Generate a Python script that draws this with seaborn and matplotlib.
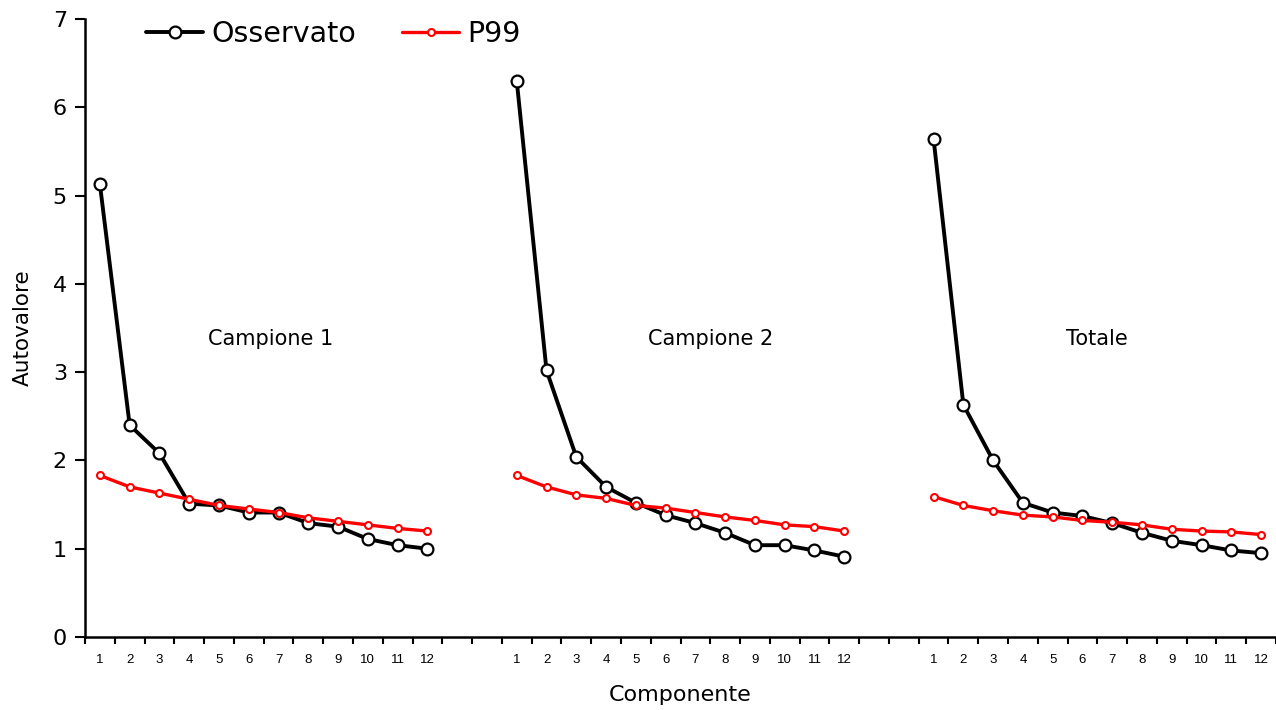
import numpy as np
import pandas as pd
import matplotlib
matplotlib.use("Agg")
import matplotlib.pyplot as plt
import seaborn as sns
from matplotlib.lines import Line2D

# ---- data ----
components = list(range(1, 13))
groups = ["Campione 1", "Campione 2", "Totale"]
obs_c1 = [5.13, 2.40, 2.08, 1.51, 1.49, 1.41, 1.41, 1.29, 1.25, 1.11, 1.04, 1.00]
p99_c1 = [1.83, 1.70, 1.63, 1.56, 1.49, 1.45, 1.41, 1.35, 1.31, 1.27, 1.23, 1.20]
obs_c2 = [6.30, 3.02, 2.04, 1.70, 1.52, 1.38, 1.29, 1.18, 1.04, 1.04, 0.98, 0.91]
p99_c2 = [1.83, 1.70, 1.61, 1.57, 1.49, 1.46, 1.41, 1.36, 1.32, 1.27, 1.25, 1.20]
obs_tot = [5.64, 2.63, 2.00, 1.52, 1.41, 1.37, 1.29, 1.18, 1.09, 1.04, 0.98, 0.95]
p99_tot = [1.59, 1.49, 1.43, 1.38, 1.36, 1.32, 1.30, 1.27, 1.22, 1.20, 1.19, 1.16]
series_names = ["Osservato", "P99"]
y_ticks = [0, 1, 2, 3, 4, 5, 6, 7]

obs = [obs_c1, obs_c2, obs_tot]
p99 = [p99_c1, p99_c2, p99_tot]

gap = 2  # empty categories between groups
rows = []
for gi, g in enumerate(groups):
    for ci, c in enumerate(components):
        pos = gi * (len(components) + gap) + c
        rows.append(dict(group=g, comp=c, pos=pos, value=obs[gi][ci], series="Osservato"))
        rows.append(dict(group=g, comp=c, pos=pos, value=p99[gi][ci], series="P99"))
df = pd.DataFrame(rows)
n_cat = len(groups) * len(components) + gap * (len(groups) - 1)

sns.set_theme(style="white")
plt.rcParams['font.family'] = ['DejaVu Sans']
plt.rcParams['text.color'] = 'black'
plt.rcParams['axes.labelcolor'] = 'black'
plt.rcParams['xtick.color'] = 'black'
plt.rcParams['ytick.color'] = 'black'

fig = plt.figure(figsize=(12.76, 7.10), dpi=100)
ax = fig.add_axes([85/1276, 73/710, (1276-85)/1276, 618/710])

styles = {
    "Osservato": dict(color="black", lw=2.8, marker="o", ms=8.5, mfc="white", mec="black", mew=1.6, zorder=3),
    "P99": dict(color="#ff0000", lw=2.4, marker="o", ms=5, mfc="white", mec="#ff0000", mew=1.5, zorder=4),
}

for g in groups:
    for s in series_names:
        sub = df[(df.group == g) & (df.series == s)]
        st = styles[s]
        sns.lineplot(data=sub, x="pos", y="value", ax=ax, color=st["color"], lw=st["lw"],
                     marker=st["marker"], markersize=st["ms"], markerfacecolor=st["mfc"],
                     markeredgecolor=st["mec"], markeredgewidth=st["mew"], zorder=st["zorder"],
                     legend=False, estimator=None)

ax.set_xlim(0.5, n_cat + 0.5)
ax.set_ylim(0, 7)

# x ticks: labels at category centers, tick marks at boundaries
centers = df[df.series == "Osservato"]["pos"].tolist()
labels = [str(c) for c in df[df.series == "Osservato"]["comp"].tolist()]
ax.set_xticks(centers)
ax.set_xticklabels(labels, fontsize=9.5, family="Liberation Sans", color="black")
ax.tick_params(axis="x", which="major", length=0, pad=12)
ax.set_xticks(np.arange(0.5, n_cat + 1.0, 1.0), minor=True)
ax.tick_params(axis="x", which="minor", length=5, width=1.5, color="black", direction="out", bottom=True)

ax.set_yticks(y_ticks)
ax.set_yticklabels([str(v) for v in y_ticks], fontsize=16, color="black")
ax.tick_params(axis="y", length=7, width=1.5, color="black", direction="out", left=True, pad=6)

for side in ["top", "right"]:
    ax.spines[side].set_visible(False)
for side in ["left", "bottom"]:
    ax.spines[side].set_color("black")
    ax.spines[side].set_linewidth(1.8)

ax.set_xlabel("Componente", fontsize=16, labelpad=14, color="black")
ax.set_ylabel("Autovalore", fontsize=15.5, labelpad=14, color="black")

# group labels
label_pos = [6.74, 21.5, 34.5]
for g, xp in zip(groups, label_pos):
    ax.text(xp, 3.37, g, ha="center", va="center", fontsize=15, color="black")

handles = [Line2D([], [], color=styles[s]["color"], lw=styles[s]["lw"], marker="o",
                  ms=styles[s]["ms"], mfc="white", mec=styles[s]["mec"], mew=styles[s]["mew"])
           for s in series_names]
leg = ax.legend(handles, series_names, loc="upper left", bbox_to_anchor=(0.03, 1.04), ncol=2,
                frameon=False, fontsize=20.5, handlelength=2.0, handletextpad=0.3, columnspacing=1.6)
for t in leg.get_texts():
    t.set_color("black")

fig.savefig("out.png", dpi=100)
